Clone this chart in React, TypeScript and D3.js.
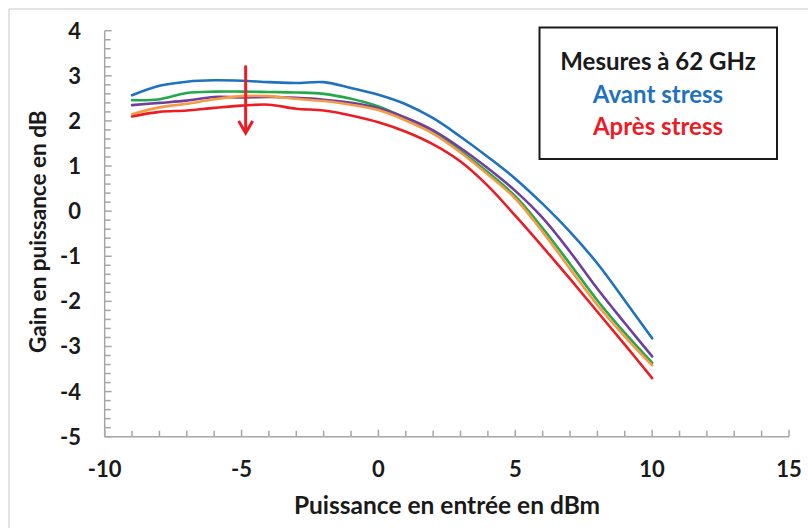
import React from "react";
import * as d3 from "d3";

const xValues = [-9, -8, -7, -6, -5, -4, -3, -2, -1, 0, 1, 2, 3, 4, 5, 6, 7, 8, 9, 10];
const blueGain = [2.57, 2.78, 2.87, 2.9, 2.89, 2.86, 2.84, 2.86, 2.73, 2.58, 2.37, 2.06, 1.65, 1.2, 0.72, 0.16, -0.46, -1.16, -1.98, -2.82];
const greenGain = [2.46, 2.48, 2.62, 2.65, 2.65, 2.64, 2.63, 2.6, 2.49, 2.32, 2.06, 1.76, 1.34, 0.86, 0.33, -0.38, -1.17, -1.98, -2.7, -3.36];
const purpleGain = [2.35, 2.4, 2.45, 2.53, 2.52, 2.53, 2.51, 2.47, 2.4, 2.28, 2.07, 1.79, 1.4, 0.95, 0.45, -0.15, -0.9, -1.72, -2.48, -3.22];
const orangeGain = [2.15, 2.3, 2.38, 2.48, 2.55, 2.55, 2.49, 2.44, 2.36, 2.24, 2.01, 1.72, 1.3, 0.81, 0.28, -0.46, -1.28, -2.08, -2.78, -3.42];
const redGain = [2.1, 2.2, 2.23, 2.29, 2.34, 2.36, 2.27, 2.23, 2.12, 1.97, 1.76, 1.48, 1.1, 0.56, -0.1, -0.79, -1.5, -2.23, -2.96, -3.7];

const seriesNames = ["blue", "green", "purple", "orange", "red"];
const seriesValues = [blueGain, greenGain, purpleGain, orangeGain, redGain];
const seriesColors = ["#1f72bd", "#23a84a", "#6f3fa0", "#f79a46", "#ec1c24"];

const xTicks = [-10, -5, 0, 5, 10, 15];
const yTicks = [4, 3, 2, 1, 0, -1, -2, -3, -4, -5];

const legendLines = ["Mesures à 62 GHz", "Avant stress", "Après stress"];
const legendColors = ["#1a1a1a", "#1f72bd", "#ec1c24"];

const arrowX = -4.85;
const arrowFrom = 3.23;
const arrowTo = 1.73;

const FONT = "Lato, 'Open Sans', sans-serif";

export default function App() {
  const W = 808;
  const H = 528;
  const x = d3.scaleLinear().domain([-10, 15]).range([104.7, 789]);
  const y = d3.scaleLinear().domain([-5, 4]).range([436.7, 30.7]);

  const line = d3
    .line<number>()
    .x((_, i) => x(xValues[i]))
    .y((d) => y(d))
    .curve(d3.curveCatmullRom.alpha(0.5));

  const xMinor = d3.range(-10, 15.001, 1);
  const yMinor = d3.range(-5, 4.001, 0.2);
  const axisColor = "#a6a6a6";

  const ax = x(arrowX);
  const ay1 = y(arrowFrom);
  const ay2 = y(arrowTo);

  return (
    <svg
      width={W}
      height={H}
      style={{ position: "absolute", left: 0, top: 0, display: "block", background: "#fff" }}
      fontFamily={FONT}
    >
      <rect x={9} y={9} width={840} height={560} fill="#fff" stroke="#c8c8c8" strokeWidth={1} />

      {/* axes */}
      <line x1={x(-10)} x2={x(15)} y1={y(-5)} y2={y(-5)} stroke={axisColor} strokeWidth={1.5} />
      <line x1={x(-10)} x2={x(-10)} y1={y(-5)} y2={y(4)} stroke={axisColor} strokeWidth={1.5} />
      {xMinor.map((v) => (
        <line key={"xm" + v} x1={x(v)} x2={x(v)} y1={y(-5)} y2={y(-5) - (Math.round(v) % 5 === 0 ? 7 : 6)} stroke={axisColor} strokeWidth={1.5} />
      ))}
      {yMinor.map((v) => (
        <line key={"ym" + v.toFixed(1)} x1={x(-10)} x2={x(-10) + (Math.abs(v - Math.round(v)) < 1e-6 ? 7 : 6)} y1={y(v)} y2={y(v)} stroke={axisColor} strokeWidth={1.5} />
      ))}

      {xTicks.map((t) => (
        <text key={"xt" + t} x={x(t)} y={477} textAnchor="middle" fontSize={22} fontWeight={700} fill="#1a1a1a">
          {t}
        </text>
      ))}
      {yTicks.map((t) => (
        <text key={"yt" + t} x={81} y={y(t)} dy="0.36em" textAnchor="end" fontSize={22} fontWeight={700} fill="#1a1a1a">
          {t}
        </text>
      ))}

      <text x={447} y={514} textAnchor="middle" fontSize={24.5} fontWeight={700} fill="#1a1a1a">
        Puissance en entrée en dBm
      </text>
      <text
        transform={`translate(46, ${y(-0.5) - 2}) rotate(-90)`}
        textAnchor="middle"
        fontSize={22.5}
        fontWeight={700}
        fill="#1a1a1a"
      >
        Gain en puissance en dB
      </text>

      {/* series */}
      {seriesValues.map((vals, i) => (
        <path key={seriesNames[i]} d={line(vals) || ""} fill="none" stroke={seriesColors[i]} strokeWidth={2.6} strokeLinejoin="round" strokeLinecap="round" />
      ))}

      {/* arrow */}
      <line x1={ax} x2={ax} y1={ay1} y2={ay2 - 1} stroke="#ec1c24" strokeWidth={3} />
      <polyline points={`${ax - 7},${ay2 - 12} ${ax},${ay2} ${ax + 7},${ay2 - 12}`} fill="none" stroke="#ec1c24" strokeWidth={3} strokeLinejoin="miter" />

      {/* legend box */}
      <rect x={539.5} y={27.5} width={237.5} height={131.5} fill="#fff" stroke="#1a1a1a" strokeWidth={2} />
      {legendLines.map((t, i) => (
        <text key={t} x={658} y={70 + i * 32.5} textAnchor="middle" fontSize={24} fontWeight={700} fill={legendColors[i]}>
          {t}
        </text>
      ))}
    </svg>
  );
}
